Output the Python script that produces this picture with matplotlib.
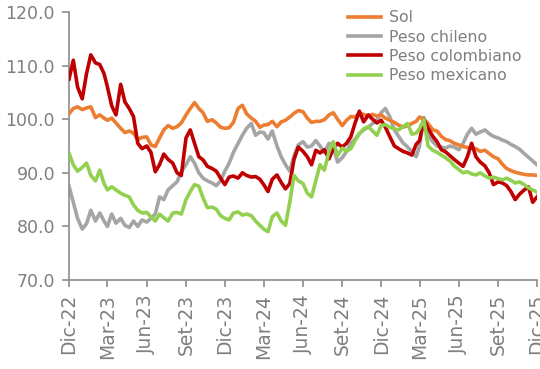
import matplotlib
matplotlib.use('Agg')
import matplotlib.pyplot as plt
import pandas as pd

# Fechas cada ~10 dias (1, 11 y 21 de cada mes), dic-22 a dic-25
months = pd.date_range('2022-12-01', '2025-11-01', freq='MS')
dates = [m + pd.Timedelta(days=d) for m in months for d in (0, 10, 20)]
dates.append(pd.Timestamp('2025-12-01'))

sol = [
    101.0, 102.0, 102.3, 101.8, 102.1, 102.3, 100.3, 100.8, 100.2, 99.8,
    100.2, 99.3, 98.3, 97.5, 97.8, 97.4, 96.2, 96.6, 96.7, 95.2,
    94.9, 96.5, 98.0, 98.8, 98.3, 98.6, 99.3, 100.8, 102.0, 103.1,
    102.0, 101.2, 99.6, 99.9, 99.3, 98.5, 98.3, 98.4, 99.4, 102.0,
    102.6, 101.0, 100.2, 99.6, 98.5, 98.9, 99.0, 99.6, 98.6, 99.5,
    99.8, 100.4, 101.1, 101.6, 101.4, 100.2, 99.4, 99.6, 99.6, 99.9,
    100.8, 101.2, 100.0, 98.8, 99.8, 100.5, 100.4, 101.1, 100.9, 100.6,
    100.9, 100.6, 100.8, 100.2, 99.8, 99.4, 98.9, 98.5, 98.8, 99.2,
    99.6, 100.4, 100.0, 99.2, 98.0, 97.8, 96.8, 96.2, 96.0, 95.5,
    95.2, 94.9, 94.7, 94.6, 94.5, 94.0, 94.2, 93.6, 93.0, 92.6,
    91.6, 90.8, 90.4, 90.1, 89.9, 89.7, 89.6, 89.6, 89.5,
]
peso_chileno = [
    87.5, 84.5, 81.5, 79.5, 80.5, 83.0, 81.0, 82.5, 81.0, 80.0,
    82.3, 80.6, 81.5, 80.2, 79.8, 81.0, 80.0, 81.2, 80.8, 81.5,
    82.3, 85.5, 85.0, 86.8, 87.6, 88.3, 90.2, 91.5, 93.0, 91.8,
    90.0, 89.0, 88.5, 88.1, 87.6, 88.5, 90.3, 91.8, 93.8, 95.5,
    97.0, 98.3, 99.2, 97.0, 97.6, 97.5, 96.3, 97.8, 95.0, 93.0,
    91.5, 90.3, 93.2, 95.2, 95.8, 94.8, 95.0, 96.0, 95.0, 93.8,
    95.5, 94.8, 92.0, 92.8, 94.0, 95.5, 96.3, 97.3, 98.0, 98.5,
    99.2, 99.8, 101.2, 102.0, 100.5, 98.0, 96.8, 95.6, 94.8, 94.0,
    93.0, 95.0, 100.3, 97.0, 95.8, 95.0, 94.8, 94.6, 95.0, 94.8,
    94.3, 95.5, 97.2, 98.3, 97.2, 97.6, 98.0, 97.3, 96.8, 96.5,
    96.1, 95.8, 95.3, 94.9, 94.4, 93.6, 92.9, 92.2, 91.5,
]
peso_colombiano = [
    107.5, 111.0, 106.0, 103.8, 108.5, 112.0, 110.5, 110.2, 108.5, 106.0,
    102.5, 100.8, 106.5, 103.2, 102.0, 100.5, 95.5, 94.5, 95.0, 93.8,
    90.2, 91.5, 93.5, 92.5, 91.8, 90.0, 89.5, 96.5, 98.0, 95.5,
    93.0, 92.4, 91.2, 90.8, 90.3, 89.0, 87.8, 89.2, 89.4, 89.0,
    90.0, 89.5, 89.2, 89.3, 88.8, 87.8, 86.5, 88.8, 89.6, 88.2,
    87.0, 88.0, 92.5, 94.8, 94.0, 93.0, 91.5, 94.2, 93.7, 94.3,
    92.6, 94.5, 95.5, 94.8, 95.5, 96.7, 99.3, 101.5, 99.5, 100.8,
    100.0, 99.3, 99.8, 98.5, 96.8, 95.0, 94.5, 94.0, 93.7, 93.3,
    95.3, 96.0, 100.0, 98.3, 96.8, 95.8, 94.3, 93.9, 93.2, 92.5,
    91.8, 91.2, 93.0, 95.5, 93.0, 92.0, 91.3, 90.0, 87.8, 88.3,
    88.1, 87.6, 86.5, 85.0, 86.0, 86.8, 87.4, 84.5, 85.5,
]
peso_mexicano = [
    93.7, 91.5, 90.3, 91.0, 91.8, 89.5, 88.5, 90.5, 88.0, 86.8,
    87.4, 86.8, 86.2, 85.8, 85.5, 84.0, 83.0, 82.5, 82.6, 81.8,
    81.0, 82.3, 81.6, 81.0, 82.5, 82.6, 82.3, 85.0, 86.5, 87.8,
    87.5, 85.3, 83.5, 83.6, 83.2, 82.0, 81.5, 81.2, 82.5, 82.7,
    82.1, 82.3, 82.0, 81.0, 80.2, 79.5, 79.0, 81.8, 82.5, 81.0,
    80.2, 84.5, 89.5, 88.5, 88.0, 86.2, 85.5, 88.5, 91.5, 90.5,
    94.0, 95.8, 93.2, 94.6, 94.0, 94.5, 96.0, 97.3, 98.2, 98.6,
    97.8, 97.0, 98.8, 99.0, 98.5, 98.2, 98.0, 98.6, 99.2, 97.2,
    97.4, 98.2, 100.0, 95.0, 94.2, 93.8, 93.3, 92.8, 92.2, 91.3,
    90.6, 90.0, 90.2, 89.8, 89.6, 90.0, 89.4, 89.0, 89.2, 88.9,
    88.7, 89.0, 88.6, 88.1, 88.3, 87.8, 87.2, 86.8, 86.4,
]

tick_dates = pd.date_range('2022-12-01', '2025-12-01', freq='3MS')
tick_labels = ['Dic-22', 'Mar-23', 'Jun-23', 'Set-23', 'Dic-23', 'Mar-24', 'Jun-24',
               'Set-24', 'Dic-24', 'Mar-25', 'Jun-25', 'Set-25', 'Dic-25']

text_color = '#7f7f7f'
axis_color = '#8c8c8c'

fig = plt.figure(figsize=(5.4, 3.69), dpi=100)
ax = fig.add_axes([0.1278, 0.2412, 0.8666, 0.7263])

series = [
    ('Peso chileno', peso_chileno, '#a5a5a5', 2),
    ('Sol', sol, '#ed7d31', 3),
    ('Peso colombiano', peso_colombiano, '#c00000', 4),
    ('Peso mexicano', peso_mexicano, '#92d050', 5),
]
lines = {}
for name, vals, color, z in series:
    lines[name], = ax.plot(dates, vals, color=color, lw=2.6, label=name,
                           zorder=z, solid_joinstyle='round')

ax.set_xlim(tick_dates[0], tick_dates[-1])
ax.set_ylim(70, 120)
ax.set_yticks([70, 80, 90, 100, 110, 120])
ax.set_yticklabels([f'{v:.1f}' for v in [70, 80, 90, 100, 110, 120]])
ax.set_xticks(tick_dates)
ax.set_xticklabels(tick_labels, rotation=90)

for side in ('top', 'right'):
    ax.spines[side].set_visible(False)
for side in ('left', 'bottom'):
    ax.spines[side].set_color(axis_color)
    ax.spines[side].set_linewidth(1.2)
ax.tick_params(axis='both', direction='out', length=5, width=1.2, color=axis_color,
               labelcolor=text_color)
ax.tick_params(axis='y', labelsize=12.5, pad=5)
ax.tick_params(axis='x', labelsize=13.5, pad=5)

order = ['Sol', 'Peso chileno', 'Peso colombiano', 'Peso mexicano']
fig.legend([lines[n] for n in order], order, loc='upper left',
           bbox_to_anchor=(0.645, 0.972), frameon=False, fontsize=11.3,
           labelcolor=text_color, handlelength=2.1, handletextpad=0.5,
           labelspacing=0.27, borderpad=0, borderaxespad=0)

fig.savefig('out.png', dpi=100, facecolor='white')
